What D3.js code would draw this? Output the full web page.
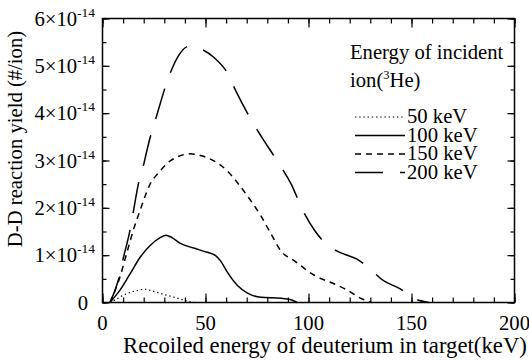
<!DOCTYPE html>
<html>
<head>
<meta charset="utf-8">
<script src="https://d3js.org/d3.v7.min.js"></script>
<style>
	body { margin: 0; background: #fff; }
	svg text { fill: #000; }
</style>
</head>
<body>
<script>
// recoiled energy (keV) / yield in units of 1e-14 #/ion
var curve50 = [ [3.6,0], [6,0.05], [9.5,0.14], [14,0.22], [17.5,0.26], [20.5,0.28], [24.5,0.24],
				[29,0.18], [34,0.12], [38,0.07], [42,0.02], [45,0] ];

var curve100 = [ [3.6,0], [8.3,0.25], [13.3,0.6], [18.2,0.95], [23,1.2], [28,1.37], [30.8,1.42],
				 [33.7,1.37], [37.8,1.25], [44.3,1.15], [50.8,1.06], [54.9,0.99], [57.3,0.88],
				 [60.6,0.64], [65.5,0.36], [70.4,0.2], [76.9,0.11], [86.6,0.09], [91.5,0.06], [94.5,0] ];

var curve150 = [ [3.6,0], [8.4,0.53], [11.7,1.03], [14.9,1.52], [18.2,1.94], [23.1,2.5], [27.2,2.74],
				 [32.9,2.99], [42.6,3.14], [48,3.1], [54.1,2.99], [60.6,2.78], [65.5,2.53], [72,2.15],
				 [76.9,1.83], [81.8,1.45], [86.6,1.09], [93.2,0.88], [103,0.57], [112.6,0.39],
				 [119.3,0.25], [125.8,0.08], [130.6,0] ];

var curve200 = [ [3.6,0], [7.6,0.46], [10,0.92], [13.3,1.52], [14.9,1.9], [17.4,2.5], [19.8,2.88],
				 [21.5,3.2], [23.1,3.48], [25.5,3.83], [32.9,4.85], [37,5.22], [40.9,5.4], [44,5.42],
				 [48.2,5.35], [54,5.18], [60.6,4.85], [64.6,4.48], [72,3.87], [76.9,3.52], [84.2,3.03],
				 [91.6,2.5], [97.3,1.94], [103,1.52], [109.5,1.2], [115.2,1.06], [123.3,0.92],
				 [129.1,0.74], [136.4,0.46], [144.5,0.29], [150.2,0.11], [158.4,0] ];

var seriesNames = ["50 keV", "100 keV", "150 keV", "200 keV"];
var xTicks = [0, 50, 100, 150, 200];
var yTicks = [0, 1, 2, 3, 4, 5, 6];

var series = [
	{ name: seriesNames[0], data: curve50,  dash: "1.4,2.8",  off: 0,   width: 1.2 },
	{ name: seriesNames[1], data: curve100, dash: null,       off: 0,   width: 1.5 },
	{ name: seriesNames[2], data: curve150, dash: "6,5",      off: 0,   width: 1.5 },
	{ name: seriesNames[3], data: curve200, dash: "31.5,17",  off: 4.5, width: 1.5 }
];

var plotL = 102.5, plotR = 514.5, plotT = 18.5, plotB = 302.5;

// pick the first serif face that is really installed (canvas width test)
function hasFont(name) {
	var ctx = document.createElement("canvas").getContext("2d");
	var s = "Recoiled energy of deuterium 0123456789";
	ctx.font = "40px monospace";
	var w0 = ctx.measureText(s).width;
	ctx.font = "40px '" + name + "', monospace";
	return ctx.measureText(s).width !== w0;
}
var serifList = ["Liberation Serif", "Tinos", "Times New Roman", "Nimbus Roman", "Nimbus Roman No9 L",
				 "DejaVu Serif", "Noto Serif", "FreeSerif", "Times"];
var found = serifList.filter(hasFont);
var serif = (found.length ? "'" + found[0] + "', " : "") + "serif";

var x = d3.scaleLinear().domain([0, 200]).range([plotL, plotR]);
var y = d3.scaleLinear().domain([0, 6]).range([plotB, plotT]);

var svg = d3.select("body").append("svg")
			.attr("width", 529)
			.attr("height", 361)
			.style("font-family", serif);

// scale whatever face is used so the x title has the reference width
var probe = svg.append("text")
			   .style("font-size", "22px")
			   .text("Recoiled energy of deuterium in target(keV)");
var k = Math.min(1.1, 404 / probe.node().getComputedTextLength());
probe.remove();
function fs(px) { return (px * k) + "px"; }

var pathDraw = d3.line()
				 .x(function(d) { return x(d[0]); })
				 .y(function(d) { return y(d[1]); })
				 .curve(d3.curveMonotoneX);

// curves
svg.selectAll("path.curve")
	.data(series)
	.enter()
	.append("path")
	.attr("class", "curve")
	.attr("d", function(d) { return pathDraw(d.data); })
	.attr("stroke", "#000")
	.attr("stroke-width", function(d) { return d.width; })
	.attr("stroke-dasharray", function(d) { return d.dash; })
	.attr("stroke-dashoffset", function(d) { return d.off; })
	.attr("fill", "none");

// frame + ticks (inward on all four sides)
var xMinor = d3.range(0, 201, 10);
var yMinor = d3.range(0, 6.01, 0.5);

function noDomain(g) { g.select(".domain").remove(); }

svg.append("g")
	.attr("transform", "translate(0," + plotB + ")")
	.call(d3.axisTop(x).tickValues(xMinor).tickSize(5).tickFormat(""))
	.call(noDomain);
svg.append("g")
	.attr("transform", "translate(0," + plotB + ")")
	.call(d3.axisTop(x).tickValues(xTicks).tickSize(9).tickFormat(""))
	.call(noDomain);
svg.append("g")
	.attr("transform", "translate(0," + plotT + ")")
	.call(d3.axisBottom(x).tickValues(xMinor).tickSize(5).tickFormat(""))
	.call(noDomain);
svg.append("g")
	.attr("transform", "translate(0," + plotT + ")")
	.call(d3.axisBottom(x).tickValues(xTicks).tickSize(9).tickFormat(""))
	.call(noDomain);
svg.append("g")
	.attr("transform", "translate(" + plotL + ",0)")
	.call(d3.axisRight(y).tickValues(yMinor).tickSize(4).tickFormat(""))
	.call(noDomain);
svg.append("g")
	.attr("transform", "translate(" + plotL + ",0)")
	.call(d3.axisRight(y).tickValues(yTicks).tickSize(7).tickFormat(""))
	.call(noDomain);
svg.append("g")
	.attr("transform", "translate(" + plotR + ",0)")
	.call(d3.axisLeft(y).tickValues(yMinor).tickSize(4).tickFormat(""))
	.call(noDomain);
svg.append("g")
	.attr("transform", "translate(" + plotR + ",0)")
	.call(d3.axisLeft(y).tickValues(yTicks).tickSize(7).tickFormat(""))
	.call(noDomain);

svg.selectAll(".tick line").attr("stroke", "#000").attr("stroke-width", 1.2);

svg.append("rect")
	.attr("x", plotL)
	.attr("y", plotT)
	.attr("width", plotR - plotL)
	.attr("height", plotB - plotT)
	.attr("fill", "none")
	.attr("stroke", "#000")
	.attr("stroke-width", 1.5);

// tick labels
svg.selectAll("text.xlab")
	.data(xTicks)
	.enter()
	.append("text")
	.attr("class", "xlab")
	.attr("x", function(d) { return x(d); })
	.attr("y", 330)
	.attr("text-anchor", "middle")
	.style("font-size", fs(20))
	.text(function(d) { return d; });

var ylab = svg.selectAll("text.ylab")
	.data(yTicks)
	.enter()
	.append("text")
	.attr("class", "ylab")
	.attr("x", function(d) { return d === 0 ? 88 : 95; })
	.attr("y", function(d) { return y(d) + 7; })
	.attr("text-anchor", "end")
	.style("font-size", fs(20));

ylab.append("tspan").text(function(d) { return d === 0 ? "0" : d + "\u00d710"; });
ylab.filter(function(d) { return d !== 0; })
	.append("tspan")
	.attr("dy", -9)
	.style("font-size", fs(13))
	.text("-14");

// axis titles
svg.append("text")
	.attr("x", 325)
	.attr("y", 353)
	.attr("text-anchor", "middle")
	.style("font-size", fs(22))
	.text("Recoiled energy of deuterium in target(keV)");

svg.append("text")
	.attr("transform", "translate(22,139) rotate(-90)")
	.attr("text-anchor", "middle")
	.style("font-size", fs(20))
	.text("D-D reaction yield (#/ion)");

// legend
svg.append("text")
	.attr("x", 350)
	.attr("y", 59)
	.style("font-size", fs(20))
	.text("Energy of incident");

var ionText = svg.append("text")
	.attr("x", 350)
	.attr("y", 87)
	.style("font-size", fs(20));
ionText.append("tspan").text("ion(");
ionText.append("tspan").attr("dy", -8).style("font-size", fs(12)).text("3");
ionText.append("tspan").attr("dy", 8).text("He)");

var legend = svg.selectAll("g.legend")
	.data(series)
	.enter()
	.append("g")
	.attr("class", "legend")
	.attr("transform", function(d, i) { return "translate(0," + (123 + i * 18.5) + ")"; });

legend.append("line")
	.attr("x1", 355)
	.attr("x2", 405)
	.attr("y1", -6)
	.attr("y2", -6)
	.attr("stroke", "#000")
	.attr("stroke-width", function(d) { return d.width; })
	.attr("stroke-dasharray", function(d) { return d.dash; })
	.attr("stroke-dashoffset", function(d) { return d.off ? 3.5 : 0; });

legend.append("text")
	.attr("x", 407)
	.attr("y", 0)
	.style("font-size", fs(20))
	.text(function(d) { return d.name; });
</script>
</body>
</html>
